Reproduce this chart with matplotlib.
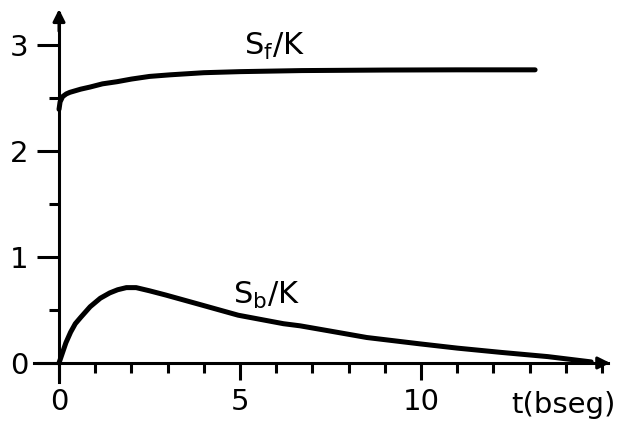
import matplotlib
matplotlib.use('Agg')
from matplotlib import pyplot as plt

# values
t_sf = [0.0, 0.03, 0.1, 0.2, 0.3, 0.45, 0.6, 0.86, 1.2, 1.6, 2.0, 2.5, 3.07, 4.0, 5.0, 6.7, 9.0, 11.0, 13.15]
sf = [2.39, 2.46, 2.51, 2.535, 2.55, 2.565, 2.58, 2.60, 2.63, 2.65, 2.675, 2.70, 2.715, 2.735, 2.745, 2.755, 2.76, 2.762, 2.762]

t_sb = [0.0, 0.05, 0.1, 0.19, 0.32, 0.45, 0.6, 0.86, 1.14, 1.4, 1.62, 1.86, 2.13, 2.5, 2.95, 3.9, 4.95,
        6.2, 6.66, 7.5, 8.5, 9.97, 11.0, 12.2, 13.5, 14.7]
sb = [0.0, 0.05, 0.10, 0.19, 0.29, 0.37, 0.43, 0.53, 0.61, 0.66, 0.69, 0.71, 0.71, 0.68, 0.64, 0.55, 0.45,
      0.37, 0.35, 0.30, 0.24, 0.18, 0.14, 0.10, 0.06, 0.01]

xticks_major = [0, 5, 10]
xticks_minor = list(range(1, 16))
yticks_major = [0, 1, 2, 3]
yticks_minor = [0.5, 1.5, 2.5]

plt.rcParams['font.family'] = ['DejaVu Sans']
plt.rcParams['mathtext.fontset'] = 'dejavusans'

fig = plt.figure(figsize=(6.18, 4.24), dpi=100)
ax = fig.add_axes([0, 0, 1, 1])
ax.set_xlim(-1.63, 15.44)
ax.set_ylim(-0.575, 3.42)

ax.plot(t_sf, sf, color='black', lw=3.6, solid_capstyle='round', solid_joinstyle='round')
ax.plot(t_sb, sb, color='black', lw=3.6, solid_capstyle='round', solid_joinstyle='round')

for s in ['top', 'right']:
    ax.spines[s].set_visible(False)
ax.spines['left'].set_position(('data', 0))
ax.spines['bottom'].set_position(('data', 0))
ax.spines['left'].set_bounds(-0.18, 3.3)
ax.spines['bottom'].set_bounds(-0.7, 15.15)
ax.spines['left'].set_linewidth(2.2)
ax.spines['bottom'].set_linewidth(2.2)

# arrow heads
ax.annotate('', xy=(0, 3.36), xytext=(0, 3.1),
            arrowprops=dict(arrowstyle='-|>', color='black', lw=2.2, mutation_scale=18))
ax.annotate('', xy=(15.3, 0), xytext=(14.8, 0),
            arrowprops=dict(arrowstyle='-|>', color='black', lw=2.2, mutation_scale=18))

ax.set_xticks(xticks_major)
ax.set_xticks([v for v in xticks_minor if v not in xticks_major], minor=True)
ax.set_yticks(yticks_major)
ax.set_yticks(yticks_minor, minor=True)
ax.tick_params(axis='x', which='major', direction='out', length=12, width=2.2, labelsize=21, pad=6)
ax.tick_params(axis='x', which='minor', direction='out', length=7, width=2.2)
ax.tick_params(axis='y', which='major', direction='out', length=16, width=2.2, labelsize=21, pad=6)
ax.tick_params(axis='y', which='minor', direction='out', length=7, width=2.2)
ax.set_yticklabels([str(v) for v in yticks_major])
ax.set_xticklabels([str(v) for v in xticks_major])

ax.text(5.1, 2.9, r'S$_\mathrm{f}$/K', fontsize=22)
ax.text(4.8, 0.56, r'S$_\mathrm{b}$/K', fontsize=22)
ax.text(12.5, -0.47, 't(bseg)', fontsize=21)

fig.savefig('out.png', dpi=100)
